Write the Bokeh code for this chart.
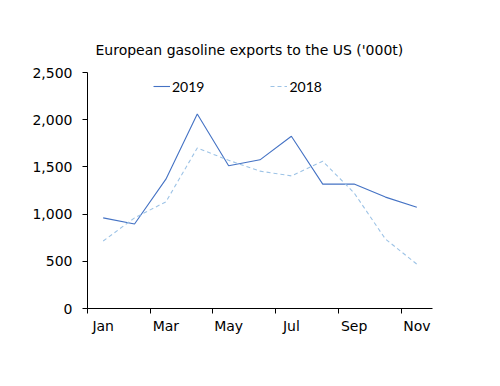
from bokeh.plotting import figure
from bokeh.models import FixedTicker, Legend, LegendItem, ColumnDataSource
from bokeh.embed import file_html
from bokeh.resources import INLINE

months = ["Jan", "Feb", "Mar", "Apr", "May", "Jun", "Jul", "Aug", "Sep", "Oct", "Nov"]
exports_2019 = [960, 895, 1370, 2060, 1512, 1575, 1825, 1318, 1318, 1180, 1072]
exports_2018 = [715, 960, 1130, 1700, 1570, 1455, 1405, 1560, 1225, 735, 470]
y_ticks = [0, 500, 1000, 1500, 2000, 2500]

FONT = "DejaVu Sans"
LEG_FONT = "Lato"
x = [i + 0.5 for i in range(len(months))]
src = ColumnDataSource(dict(x=x, a=exports_2019, b=exports_2018))

p = figure(width=492, height=378, output_backend="svg", toolbar_location=None,
           x_range=(0, len(months)), y_range=(0, 2500),
           min_border_left=87, min_border_right=60, min_border_top=72, min_border_bottom=70,
           title="European gasoline exports to the US ('000t)")
p.title.align = "left"
p.title.offset = 8
p.title.text_font = FONT
p.title.text_font_size = "14px"
p.title.text_font_style = "normal"
p.title.text_color = "#000000"
p.title.standoff = 30

p.outline_line_color = None
p.grid.visible = False
p.background_fill_color = "white"
p.border_fill_color = "white"

r1 = p.line("x", "a", source=src, line_color="#4472C4", line_width=1.1)
r2 = p.line("x", "b", source=src, line_color="#9DC3E6", line_width=1.1, line_dash="4 3")

xa = p.xaxis[0]
xa.ticker = FixedTicker(ticks=[x[i] for i in range(0, len(months), 2)],
                        minor_ticks=list(range(0, len(months), 2)))
xa.major_label_overrides = {x[i]: months[i] for i in range(0, len(months), 2)}
xa.major_tick_out = 0
xa.major_tick_in = 0
xa.minor_tick_line_color = "#000000"
xa.minor_tick_out = 5
xa.minor_tick_in = 0
xa.major_label_standoff = 4

ya = p.yaxis[0]
ya.ticker = FixedTicker(ticks=y_ticks)
ya.major_label_overrides = {v: f"{v:,}" for v in y_ticks}
ya.major_tick_out = 5
ya.major_tick_in = 0
ya.minor_tick_line_color = None
ya.major_label_standoff = 10

for ax in (xa, ya):
    ax.axis_line_color = "#000000"
    ax.axis_line_width = 1
    ax.major_tick_line_color = "#000000" if ax is ya else None
    ax.major_label_text_font = FONT
    ax.major_label_text_font_size = "14px"
    ax.major_label_text_color = "#000000"

legend = Legend(items=[LegendItem(label="2019", renderers=[r1]),
                       LegendItem(label="2018", renderers=[r2])],
                orientation="horizontal", location=(66, 212),
                border_line_color=None, background_fill_alpha=0,
                padding=0, margin=0, spacing=66, glyph_width=17, label_standoff=2,
                label_text_font=LEG_FONT, label_text_font_size="14px", label_text_color="#000000")
p.add_layout(legend, "center")

open("out.html", "w").write(file_html(p, INLINE))
